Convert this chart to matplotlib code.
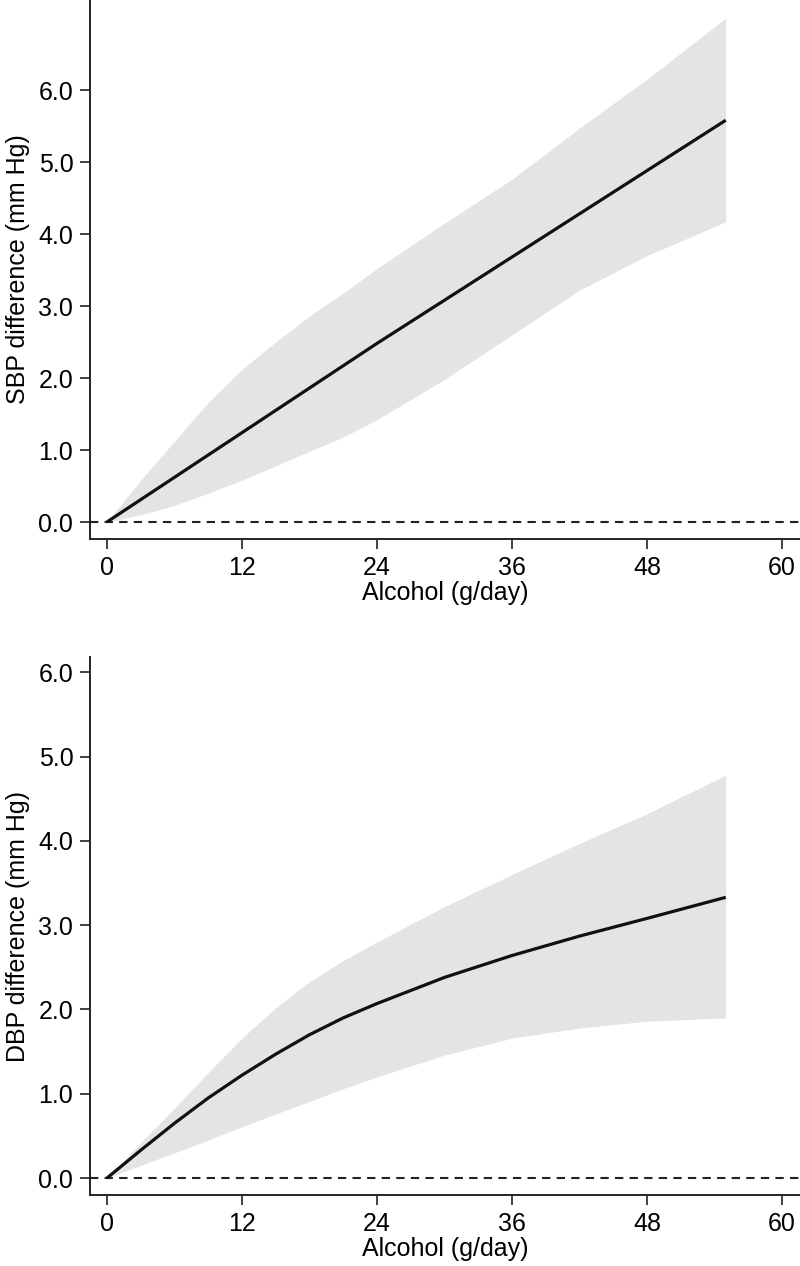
import matplotlib
matplotlib.use("Agg")
import matplotlib.pyplot as plt

plt.rcParams["font.family"] = ["Liberation Sans", "DejaVu Sans"]

# values
alkohol = [0, 3, 6, 9, 12, 15, 18, 21, 24, 30, 36, 42, 48, 55]

sbp = [0, 0.31, 0.62, 0.93, 1.24, 1.55, 1.86, 2.17, 2.48, 3.08, 3.68, 4.28, 4.88, 5.58]
sbp_ovre = [0, 0.58, 1.12, 1.66, 2.12, 2.5, 2.86, 3.18, 3.52, 4.15, 4.76, 5.47, 6.15, 7.0]
sbp_nedre = [0, 0.1, 0.23, 0.4, 0.58, 0.78, 0.98, 1.18, 1.42, 1.98, 2.6, 3.22, 3.7, 4.17]

dbp = [0, 0.33, 0.65, 0.95, 1.22, 1.47, 1.7, 1.9, 2.07, 2.38, 2.64, 2.87, 3.08, 3.33]
dbp_ovre = [0, 0.42, 0.83, 1.25, 1.66, 2.02, 2.33, 2.58, 2.8, 3.22, 3.6, 3.97, 4.32, 4.78]
dbp_nedre = [0, 0.15, 0.3, 0.45, 0.61, 0.76, 0.91, 1.06, 1.2, 1.46, 1.66, 1.78, 1.86, 1.9]

xticks = [0, 12, 24, 36, 48, 60]
yticks = [0, 1, 2, 3, 4, 5, 6]

W, H = 800, 1266
fig = plt.figure(figsize=(W / 100, H / 100), dpi=100)


def lag_panel(rect, midt, ovre, nedre, ylim, ylabel):
    ax = fig.add_axes(rect)
    ax.fill_between(alkohol, nedre, ovre, color="#e4e4e4", lw=0, zorder=1)
    ax.axhline(0, color="#222222", ls=(0, (4, 3)), lw=1.5, zorder=2)
    ax.plot(alkohol, midt, color="#111111", lw=2.3, zorder=3, solid_capstyle="butt")
    ax.set_xlim(-1.5, 61.6)
    ax.set_ylim(*ylim)
    ax.set_xticks(xticks)
    ax.set_yticks(yticks)
    ax.set_yticklabels([f"{v:.1f}" for v in yticks])
    for side in ["top", "right"]:
        ax.spines[side].set_visible(False)
    for side in ["left", "bottom"]:
        ax.spines[side].set_linewidth(1.4)
        ax.spines[side].set_color("#222222")
    ax.tick_params(direction="out", length=7, width=1.2, labelsize=18, pad=5, color="#222222")
    ax.set_xlabel("Alcohol (g/day)", fontsize=18, labelpad=1)
    ax.set_ylabel(ylabel, fontsize=18, labelpad=6)
    return ax


# top panel: pixel 0..539 vertical, 90..800 horizontal
lag_panel([90 / W, (H - 539) / H, 710 / W, 539 / H], sbp, sbp_ovre, sbp_nedre,
          (-0.236, 7.25), "SBP difference (mm Hg)")
# bottom panel: pixel 657..1195
lag_panel([90 / W, (H - 1195) / H, 710 / W, 538 / H], dbp, dbp_ovre, dbp_nedre,
          (-0.2, 6.18), "DBP difference (mm Hg)")

fig.savefig("out.png", dpi=100)
